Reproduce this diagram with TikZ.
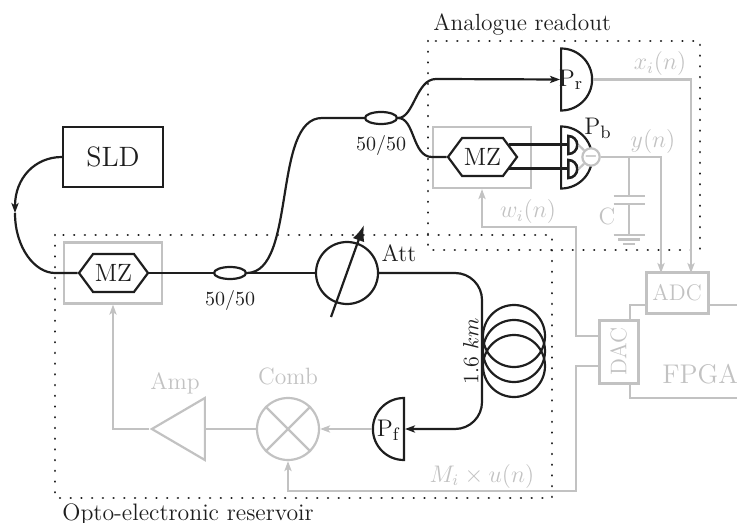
\documentclass[tikz,border=0pt]{standalone}
\usepackage{amsmath,amssymb}
\usepackage{xcolor}
\usepackage{tikz}
\usetikzlibrary{arrows.meta,positioning,shapes.geometric,shapes.symbols}
\definecolor{ink}{HTML}{1E1E1E}
\definecolor{elec}{HTML}{C2C2C2}

\begin{document}
\begin{tikzpicture}[
  x=0.5pt, y=-0.5pt,
  >={Stealth[length=5pt,width=3.6pt,inset=1.2pt]},
  txt/.style={font=\fontsize{11.8}{13}\selectfont, text=ink, inner sep=0pt},
  gtxt/.style={txt, text=elec},
  fibre/.style={draw=ink, line width=1.1pt},
  wire/.style={draw=elec, line width=1.1pt},
  laser/.style={fibre, rectangle, minimum width=50pt, minimum height=30pt, font=\fontsize{14}{16}\selectfont, text=ink},
  mzm/.style={fibre, signal, signal to=west and east, signal pointer angle=107, minimum width=34.5pt, minimum height=19pt, inner sep=0pt, fill=white, font=\fontsize{12.5}{14}\selectfont, text=ink},
  mzbox/.style={wire, rectangle, minimum width=49pt, minimum height=30.5pt},
  coupler/.style={fibre, ellipse, minimum width=16pt, minimum height=6pt, inner sep=0pt},
  detector/.style={fibre, semicircle, minimum height=15.5pt, inner sep=0pt, anchor=chord center, font=\fontsize{11}{13}\selectfont, text=ink},
  subdet/.style={fibre, semicircle, shape border rotate=270, minimum height=4.5pt, inner sep=0pt, anchor=chord center, line width=1.3pt},
  ring/.style={draw, circle, minimum size=31pt, inner sep=0pt},
  conv/.style={draw=elec, line width=1.5pt, rectangle, inner sep=0pt, font=\fontsize{11.3}{13}\selectfont, text=elec},
  plate/.style={draw=elec, line width=1.1pt},
  dotbox/.style={draw=ink, line width=1.25pt, line cap=round, dash pattern=on 0.01pt off 5.35pt}
]
\useasboundingbox (0,0) rectangle (737,523);

\draw[dotbox] (55,235) rectangle (552,498);
\draw[dotbox] (428,41) rectangle (700,250);

\node[mzbox] (boxA) at (113,273) {};
\node[mzbox] (boxB) at (482,157.5) {};
\node[laser] (SLD) at (113,157) {SLD};
\node[mzm] (mzA) at (113.5,273) {MZ};
\node[mzm] (mzB) at (482.5,157) {MZ};
\node[coupler] (coupA) at (230,273) {};
\node[coupler] (coupB) at (381,118) {};
\node[ring, fibre] (Att) at (347,273) {};
\node[ring, fibre] (coilA) at (514,336) {};
\node[ring, fibre] (coilB) at (514,351) {};
\node[ring, fibre] (coilC) at (514,366) {};
\node[detector, shape border rotate=270] (Pr) at (560,79.5) {};
\node[detector, shape border rotate=270] (Pb) at (560,157.5) {};
\node[detector, shape border rotate=90] (Pf) at (405,429) {};
\node[subdet] (pdA) at (567,145) {};
\node[subdet] (pdB) at (567,169) {};
\node[ring, wire, minimum size=8.5pt, fill=white, font=\fontsize{8}{8}\selectfont, text=gray] (sub) at (591,157) {$-$};
\node[ring, wire] (Comb) at (288,429) {};
\node[wire, isosceles triangle, isosceles triangle stretches, shape border rotate=180, minimum height=26.5pt, minimum width=31pt, inner sep=0pt, anchor=apex] (Amp) at (149,429) {};
\node[conv, minimum width=31pt, minimum height=20pt] (ADC) at (677,293) {ADC};
\node[conv, minimum width=19.5pt, minimum height=31.5pt] (DAC) at (618.5,351.5) {\rotatebox{90}{DAC}};

\coordinate (bendS) at (15,213);
\coordinate (feedA) at (55,273);
\coordinate (topA) at (322,118);
\coordinate (upB) at (436,79);
\coordinate (lowB) at (432,157);
\coordinate (coilBot) at (482,429);
\coordinate (attA) at (331,317);
\coordinate (attB) at (364,225);
\coordinate (adcY) at (661,273);
\coordinate (adcX) at (691,273);
\coordinate (capTop) at (629,157);
\coordinate (capUp) at (629,196);
\coordinate (capLow) at (629,204);
\coordinate (capGnd) at (629,235);
\coordinate (dacW) at (599,336);
\coordinate (dacM) at (599,366);
\coordinate (cornerW) at (576,227);
\coordinate (cornerM) at (576,491);
\coordinate (adcF) at (646,305);
\coordinate (adcE) at (708,305);
\coordinate (edgeA) at (737,305);
\coordinate (dacF) at (630,320);
\coordinate (dacB) at (630,383);
\coordinate (edgeB) at (737,398);

\draw[fibre, ->] (SLD.west) .. controls (35,157) and (15,178) .. (bendS);
\draw[fibre] (bendS) .. controls (15,248) and (35,273) .. (feedA) -- (mzA.west);
\draw[fibre] (mzA.east) -- (coupA.west);
\draw[fibre] (coupA.east) -- (Att.west);
\draw[fibre] (coupA.east) .. controls (297,272) and (272,118) .. (topA) -- (coupB.west);
\draw[fibre, ->] (coupB.east) .. controls (414,118) and (416,79) .. (upB) -- (Pr.chord center);
\draw[fibre] (coupB.east) .. controls (415,118) and (412,157) .. (lowB) -- (mzB.west);
\draw[fibre, ->, rounded corners=13.5pt] (Att.east) -| (coilBot) -- (Pf.chord center);
\draw[fibre, -{Latex[length=8pt,width=6pt]}] (attA) -- (attB);
\draw[fibre, line width=1.5pt] (pdA.chord center -| mzB.25) -- (pdA.chord center);
\draw[fibre, line width=1.5pt] (pdB.chord center -| mzB.-25) -- (pdB.chord center);

\draw[wire] (pdA.apex) -- (sub);
\draw[wire] (pdB.apex) -- (sub);
\draw[wire, ->] (Pr.apex) -| (adcX);
\draw[wire, ->] (sub) -| (adcY);
\draw[wire] (capTop) -- (capUp);
\draw[wire] (capLow) -- (capGnd);
\draw[plate] (capUp) ++(-15.5,0) -- ++(31,0);
\draw[plate] (capLow) ++(-15.5,0) -- ++(31,0);
\draw[plate] (capGnd) ++(-15.5,0) -- ++(31,0);
\draw[plate] (capGnd) ++(-11,4.5) -- ++(22,0);
\draw[plate] (capGnd) ++(-6,9) -- ++(12,0);
\draw[wire, ->] (dacW) -| (cornerW) -| (boxB.south);
\draw[wire, ->] (dacM) -| (cornerM) -| (Comb.south);
\draw[wire, ->] (Pf.apex) -- (Comb.east);
\draw[wire] (Comb.west) -- (Amp.lower side);
\draw[wire, ->] (Amp.apex) -| (boxA.south);
\draw[wire] (Comb.45) -- (Comb.225);
\draw[wire] (Comb.135) -- (Comb.315);
\draw[wire] (adcF) -| (dacF);
\draw[wire] (adcE) -- (edgeA);
\draw[wire] (dacB) |- (edgeB);

\node[txt, anchor=base west, font=\fontsize{11.7}{13}\selectfont] (titleR) at (433,31) {Analogue readout};
\node[txt, anchor=base west, font=\fontsize{11.9}{13}\selectfont] (titleO) at (62,520) {Opto-electronic reservoir};
\node[txt, below=5pt of coupA, font=\fontsize{10}{12}\selectfont] (splitA) {50/50};
\node[txt, below=5pt of coupB, font=\fontsize{10}{12}\selectfont] (splitB) {50/50};
\node[txt] (attL) at (399,253) {Att};
\node[txt, rotate=90, font=\fontsize{11}{13}\selectfont] (fibreL) at (471,351) {1.6 $km$};
\node[txt, font=\fontsize{13}{15}\selectfont] (pr) at (571,80) {$\mathrm{P_r}$};
\node[txt, font=\fontsize{13}{15}\selectfont] (pb) at (598,128) {$\mathrm{P_b}$};
\node[txt, font=\fontsize{13}{15}\selectfont] (pf) at (389,430) {$\mathrm{P_f}$};
\node[gtxt] (xiL) at (660,64) {$x_i(n)$};
\node[gtxt] (yL) at (653,142) {$y(n)$};
\node[gtxt] (wiL) at (528,212) {$w_i(n)$};
\node[gtxt] (capL) at (607,216) {C};
\node[gtxt] (miL) at (482,476) {$M_i\times u(n)$};
\node[gtxt, above=6pt of Comb] (combL) {Comb};
\node[gtxt] (ampL) at (175,383) {Amp};
\node[gtxt, anchor=base west, font=\fontsize{13.5}{15}\selectfont] (fpgaL) at (662,383) {FPGA};
\end{tikzpicture}
\end{document}
